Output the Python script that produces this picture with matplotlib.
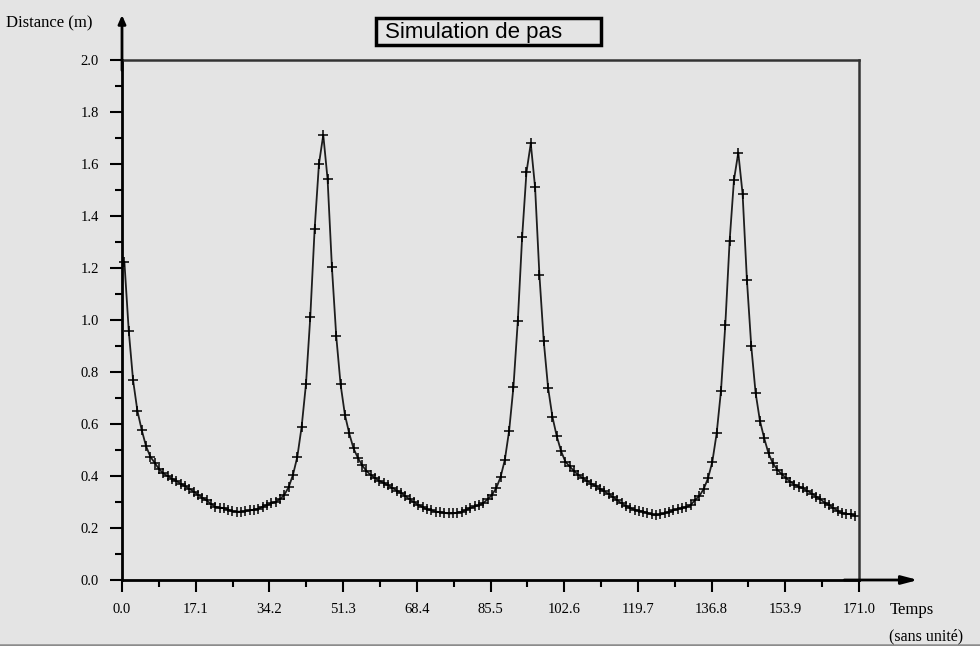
import numpy as np
import matplotlib
matplotlib.use("Agg")
import matplotlib.pyplot as plt
from matplotlib.patches import Rectangle
from matplotlib.lines import Line2D

# distance relevée à chaque pas de temps
dist = [
    1.222, 0.959, 0.769, 0.651, 0.577, 0.515, 0.474, 0.451, 0.427, 0.410,
    0.400, 0.390, 0.380, 0.371, 0.361, 0.351, 0.340, 0.328, 0.317, 0.306,
    0.293, 0.282, 0.278, 0.277, 0.270, 0.264, 0.263, 0.263, 0.265, 0.268,
    0.270, 0.274, 0.282, 0.288, 0.295, 0.301, 0.311, 0.328, 0.357, 0.405,
    0.474, 0.590, 0.754, 1.013, 1.349, 1.600, 1.712, 1.541, 1.203, 0.938,
    0.753, 0.636, 0.564, 0.506, 0.470, 0.441, 0.419, 0.404, 0.392, 0.381,
    0.373, 0.364, 0.354, 0.344, 0.335, 0.323, 0.310, 0.299, 0.289, 0.280,
    0.272, 0.268, 0.263, 0.261, 0.258, 0.256, 0.256, 0.259, 0.262, 0.269,
    0.277, 0.283, 0.288, 0.296, 0.310, 0.327, 0.353, 0.395, 0.462, 0.575,
    0.744, 0.996, 1.318, 1.568, 1.679, 1.510, 1.173, 0.919, 0.740, 0.628,
    0.554, 0.496, 0.455, 0.437, 0.419, 0.404, 0.392, 0.381, 0.371, 0.361,
    0.351, 0.341, 0.331, 0.319, 0.307, 0.295, 0.285, 0.277, 0.270, 0.266,
    0.263, 0.258, 0.252, 0.250, 0.252, 0.257, 0.262, 0.268, 0.273, 0.277,
    0.281, 0.288, 0.308, 0.323, 0.350, 0.391, 0.455, 0.564, 0.728, 0.981,
    1.304, 1.538, 1.644, 1.485, 1.154, 0.900, 0.721, 0.613, 0.545, 0.487,
    0.449, 0.425, 0.408, 0.393, 0.378, 0.367, 0.359, 0.352, 0.343, 0.332,
    0.321, 0.310, 0.298, 0.288, 0.277, 0.266, 0.257, 0.254, 0.253, 0.248,
]
# pas de temps réguliers
t = np.linspace(0.56, 170.07, len(dist))

x_ticks = [0.0, 17.1, 34.2, 51.3, 68.4, 85.5, 102.6, 119.7, 136.8, 153.9, 171.0]
y_ticks = [0.0, 0.2, 0.4, 0.6, 0.8, 1.0, 1.2, 1.4, 1.6, 1.8, 2.0]

bg = '#e4e4e4'
W, H = 980, 646

fig = plt.figure(figsize=(W/100, H/100), dpi=100, facecolor=bg)
ax = fig.add_axes([122/W, 1-580/H, 737/W, 520/H])
ax.set_facecolor(bg)

ax.plot(t, dist, color='#1e1e1e', lw=1.3, marker='+', ms=6.5, mew=1.1, mec='black', clip_on=False)

ax.set_xlim(0, 171)
ax.set_ylim(0, 2)
ax.set_xticks(x_ticks)
ax.set_xticklabels(['%.1f' % v for v in x_ticks])
ax.set_xticks([v + 8.55 for v in x_ticks[:-1]], minor=True)
ax.set_yticks(y_ticks)
ax.set_yticklabels(['%.1f' % v for v in y_ticks])
ax.set_yticks([v + 0.1 for v in y_ticks[:-1]], minor=True)

ax.tick_params(which='major', length=8.6, width=1.5, color='black', labelsize=10.5, pad=8)
ax.tick_params(which='minor', length=5, width=1.5, color='black')
for lab in ax.get_xticklabels() + ax.get_yticklabels():
    lab.set_family('Liberation Serif')

for s in ['left', 'bottom']:
    ax.spines[s].set_linewidth(2)
    ax.spines[s].set_color('black')
for s in ['top', 'right']:
    ax.spines[s].set_linewidth(1.8)
    ax.spines[s].set_color('#333333')

# flèches au bout des axes
ax.annotate('', xy=(0, 1 + 45/520), xytext=(0, 0.98), xycoords='axes fraction',
            arrowprops=dict(arrowstyle='-|>,head_length=0.5,head_width=0.22', color='black',
                            lw=2, mutation_scale=10, shrinkA=0, shrinkB=0),
            annotation_clip=False)
ax.annotate('', xy=(1 + 59/737, 0), xytext=(0.98, 0), xycoords='axes fraction',
            arrowprops=dict(arrowstyle='-|>,head_length=0.95,head_width=0.25', color='black',
                            lw=2, mutation_scale=10, shrinkA=0, shrinkB=0),
            annotation_clip=False)

serif = 'Liberation Serif'
fig.text(6/W, 1-23/H, 'Distance (m)', family=serif, size=12, va='center', ha='left')
fig.text(890/W, 1-610/H, 'Temps', family=serif, size=12, va='center', ha='left')
fig.text(889/W, 1-636/H, '(sans unité)', family=serif, size=11.5, va='center', ha='left')

# cadre du titre
fig.add_artist(Rectangle((376/W, 1-45/H), 225/W, 27/H, transform=fig.transFigure,
                         facecolor=bg, edgecolor='black', lw=2.5))
fig.text(385/W, 1-38/H, 'Simulation de pas', family='Liberation Sans', size=16,
         va='baseline', ha='left')

fig.add_artist(Line2D([0, 1], [1/H, 1/H], transform=fig.transFigure, color='#8c8c8c', lw=1.8))

fig.savefig('out.png', dpi=100, facecolor=bg)
